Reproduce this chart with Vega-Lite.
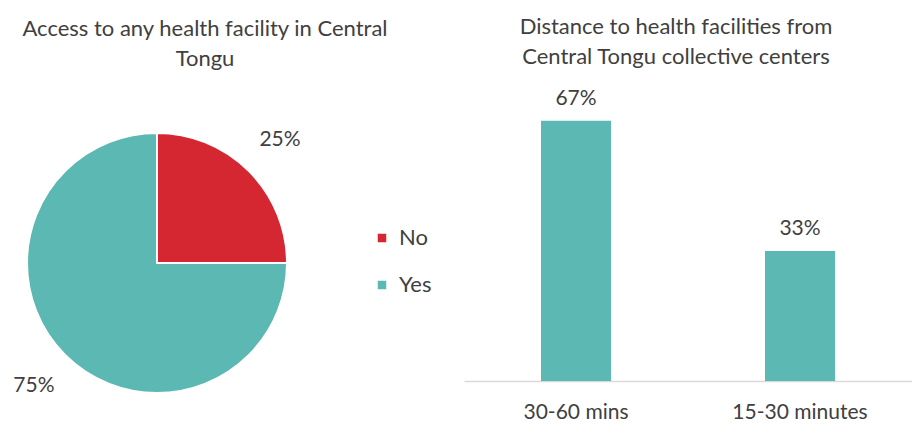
{
  "$schema": "https://vega.github.io/schema/vega-lite/v6.json",
  "padding": {"top": 15, "left": 0, "right": 0, "bottom": 0},
  "background": "white",
  "bounds": "flush",
  "spacing": 150,
  "config": {
    "view": {"stroke": null},
    "font": "Lato",
    "title": {"font": "Lato", "fontSize": 22, "fontWeight": "normal", "color": "#404040", "lineHeight": 30}
  },
  "hconcat": [
    {
      "width": 314,
      "height": 326,
      "title": {"text": ["Access to any health facility in Central", "Tongu"], "anchor": "middle", "frame": "group", "dx": 48, "offset": 29},
      "data": {"values": [
        {"answer": "No", "pct": 25, "label": "25%"},
        {"answer": "Yes", "pct": 75, "label": "75%"}
      ]},
      "encoding": {"theta": {"field": "pct", "type": "quantitative", "stack": true}},
      "layer": [
        {
          "mark": {"type": "arc", "outerRadius": 130, "stroke": "white", "strokeWidth": 2},
          "encoding": {
            "color": {
              "field": "answer", "type": "nominal",
              "scale": {"domain": ["No", "Yes"], "range": ["#D52731", "#5CB8B2"]},
              "legend": {"title": null, "orient": "none", "legendX": 371, "legendY": 127, "symbolType": "square", "symbolSize": 100, "labelFontSize": 22, "labelColor": "#404040", "rowPadding": 25, "labelOffset": 6, "labelFont": "Lato"}
            }
          }
        },
        {
          "mark": {"type": "text", "radius": 174, "fontSize": 21, "color": "#404040"},
          "encoding": {"text": {"field": "label"}, "detail": {"field": "answer"}}
        }
      ]
    },
    {
      "width": 448,
      "height": 281,
      "title": {"text": ["Distance to health facilities from", "Central Tongu collective centers"], "anchor": "middle", "frame": "group", "dx": -12, "offset": 19},
      "data": {"values": [
        {"distance": "30-60 mins", "pct": 66.67, "label": "67%"},
        {"distance": "15-30 minutes", "pct": 33.33, "label": "33%"}
      ]},
      "encoding": {
        "x": {"field": "distance", "type": "nominal", "sort": null,
          "scale": {"paddingInner": 0.6875, "paddingOuter": 0.34375},
          "axis": {"title": null, "labelAngle": 0, "labelFontSize": 21, "labelColor": "#404040", "ticks": false, "domainColor": "#D9D9D9", "domainWidth": 1.5, "labelPadding": 20, "labelFont": "Lato"}},
        "y": {"field": "pct", "type": "quantitative", "scale": {"domain": [0, 72]}, "axis": null}
      },
      "layer": [
        {"mark": {"type": "bar", "color": "#5CB8B2"}},
        {"mark": {"type": "text", "baseline": "bottom", "dy": -12, "fontSize": 21, "color": "#404040"}, "encoding": {"text": {"field": "label"}}}
      ]
    }
  ]
}
